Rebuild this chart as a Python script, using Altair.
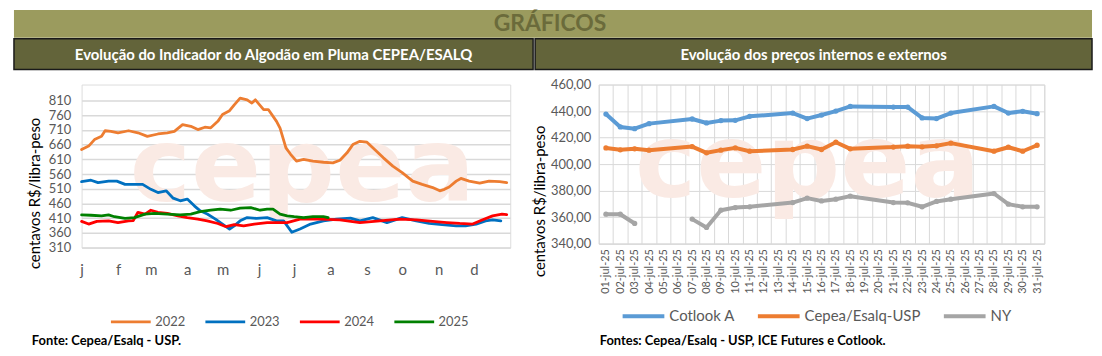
import altair as alt
import pandas as pd

# ---------------- Left chart: CEPEA/ESALQ indicator (day of year, value) ----------------
years = ["2022", "2023", "2024", "2025"]
year_colors = ["#ED7D31", "#0070C0", "#FF0000", "#008000"]
year_widths = [2.8, 2.8, 2.8, 4.2]

days_2022 = [0, 6, 11, 17, 20, 25, 31, 40, 48, 56, 65, 73, 79, 86, 93, 99, 105, 110, 116, 120,
             126, 130, 135, 141, 145, 148, 155, 159, 166, 169, 174, 178, 183, 189, 197, 206, 214, 220, 226, 231,
             237, 243, 248, 257, 265, 273, 282, 290, 299, 305, 309, 313, 319, 323, 330, 339, 347, 356, 362]
vals_2022 = [643, 655, 677, 688, 707, 705, 700, 707, 700, 688, 696, 700, 705, 728, 722, 711, 719, 717, 739, 762,
             775, 795, 818, 812, 801, 812, 779, 779, 739, 716, 649, 627, 604, 610, 604, 600, 598, 607, 632, 660,
             671, 668, 649, 615, 587, 565, 536, 525, 514, 503, 508, 516, 536, 545, 536, 529, 536, 534, 531]

days_2023 = [0, 8, 14, 23, 30, 37, 45, 52, 59, 65, 72, 78, 84, 90, 96, 101, 107, 114, 120, 126,
             130, 135, 141, 149, 158, 166, 172, 179, 186, 195, 206, 217, 229, 237, 248, 260, 273, 285, 296, 307,
             319, 327, 336, 344, 350, 357]
vals_2023 = [534, 539, 531, 536, 536, 525, 525, 525, 508, 497, 503, 478, 469, 475, 452, 435, 424, 407, 390, 373,
             384, 401, 412, 409, 412, 401, 401, 362, 373, 390, 401, 407, 410, 401, 412, 395, 412, 401, 392, 388,
             384, 384, 390, 401, 404, 401]

days_2024 = [0, 6, 13, 23, 31, 40, 44, 48, 54, 59, 65, 73, 82, 90, 99, 107, 116, 123, 130, 138,
             147, 158, 166, 175, 186, 203, 220, 237, 254, 271, 285, 299, 311, 322, 333, 341, 350, 358, 362]
vals_2024 = [399, 390, 399, 401, 395, 401, 402, 430, 424, 437, 430, 426, 418, 412, 407, 401, 392, 381, 388, 384,
             390, 395, 395, 395, 407, 407, 404, 395, 401, 407, 404, 399, 395, 392, 390, 404, 418, 424, 422]

days_2025 = [0, 8, 17, 23, 28, 37, 45, 54, 62, 73, 84, 93, 101, 110, 118, 127, 135, 144, 152, 158,
             163, 169, 175, 181, 189, 197, 206, 210]
vals_2025 = [421, 420, 418, 421, 415, 409, 412, 424, 426, 424, 421, 424, 432, 437, 441, 437, 444, 446, 437, 441,
             441, 424, 418, 415, 412, 415, 415, 412]

month_starts = [0, 31, 59, 90, 120, 151, 181, 212, 243, 273, 304, 334]
month_labels = ["j", "f", "m", "a", "m", "j", "j", "a", "s", "o", "n", "d"]
left_y_ticks = [310, 360, 410, 460, 510, 560, 610, 660, 710, 760, 810]

# ---------------- Right chart: internal and external prices, July 2025 ----------------
series_names = ["Cotlook A", "Cepea/Esalq-USP", "NY"]
series_colors = ["#5B9BD5", "#ED7D31", "#A5A5A5"]
date_labels = ["%02d-jul-25" % d for d in range(1, 32)]
days_jul = [1, 2, 3, 4, 7, 8, 9, 10, 11, 14, 15, 16, 17, 18, 21, 22, 23, 24, 25, 28, 29, 30, 31]
cotlook = [437.7, 428.0, 426.7, 430.5, 434.0, 431.0, 432.8, 433.0, 436.0, 438.5, 434.3, 437.0, 440.0, 443.5,
           443.0, 443.0, 434.8, 434.3, 438.5, 443.5, 438.5, 439.8, 438.0]
cepea = [412.2, 410.8, 411.5, 410.5, 413.2, 408.5, 410.5, 412.2, 409.7, 411.0, 413.5, 411.0, 416.5, 411.5,
         412.8, 413.5, 413.0, 413.8, 415.8, 409.7, 412.7, 409.7, 414.2]
ny = [362.2, 362.2, 355.2, None, 358.5, 352.2, 365.2, 367.2, 367.8, 371.0, 374.3, 372.2, 373.5, 375.8,
      371.0, 370.8, 367.8, 371.8, 373.5, 377.8, 369.8, 367.8, 367.8]
right_y_ticks = [340, 360, 380, 400, 420, 440, 460]

# ---------------- Build tables ----------------
rows = []
for yr, ds, vs in zip(years, [days_2022, days_2023, days_2024, days_2025],
                      [vals_2022, vals_2023, vals_2024, vals_2025]):
    for d, v in zip(ds, vs):
        rows.append({"year": yr, "day": d, "value": v})
df_left = pd.DataFrame(rows)

rows = []
for name, vals in zip(series_names, [cotlook, cepea, ny]):
    seg = 0
    for d, v in zip(days_jul, vals):
        if v is None:
            seg += 1
            continue
        rows.append({"serie": name, "date": "%02d-jul-25" % d, "day": d, "value": v,
                     "seg": "%s-%d" % (name, seg)})
df_right = pd.DataFrame(rows)

GRAY = "#595959"
W_L, H_L = 431, 164
W_R, H_R = 448, 160
WATER = "#FAEAE4"

month_expr = "%s[indexof(%s, datum.value)]" % (str(month_labels), str(month_starts))


def txt(s):
    return pd.DataFrame({"t": [s]})


# ---------------- Left panel ----------------
left_water = alt.Chart(txt("cepea")).mark_text(
    fontSize=104, fontWeight="bold", font="DejaVu Sans", color=WATER, align="center",
    baseline="alphabetic"
).encode(text="t:N", x=alt.value(222), y=alt.value(117))

left_lines = alt.Chart(df_left).mark_line(strokeJoin="round", strokeCap="round").encode(
    x=alt.X("day:Q", scale=alt.Scale(domain=[0, 365], nice=False, zero=False),
            axis=alt.Axis(values=month_starts, labelExpr=month_expr, grid=False, ticks=False,
                          domain=False, labelPadding=15, labelFontSize=15, labelColor=GRAY,
                          labelFlush=False, title=None)),
    y=alt.Y("value:Q", scale=alt.Scale(domain=[310, 864.05], nice=False, zero=False),
            axis=alt.Axis(values=left_y_ticks, grid=True, gridColor="#D9D9D9", gridWidth=1.5,
                          ticks=False, domain=False, labelPadding=11, labelFontSize=13,
                          labelColor=GRAY, title="centavos R$/libra-peso", titleX=-47, titleY=109,
                          titleAngle=270, titleAlign="center", titleBaseline="middle",
                          titleFontSize=15, titleFontWeight="normal", titleColor="#000000")),
    color=alt.Color("year:N", scale=alt.Scale(domain=years, range=year_colors),
                    legend=alt.Legend(orient="none", legendX=28, legendY=217, direction="horizontal",
                                      title=None, symbolType="stroke", symbolSize=1600,
                                      symbolStrokeWidth=3, labelFontSize=13, labelColor=GRAY,
                                      columnPadding=13, labelOffset=3)),
    strokeWidth=alt.StrokeWidth("year:N", scale=alt.Scale(domain=years, range=year_widths), legend=None),
    order="day:Q",
)

header_band = alt.Chart(txt("GRÁFICOS")).mark_rect(color="#9B9B5E").encode(
    x=alt.value(-68), x2=alt.value(1016), y=alt.value(-75), y2=alt.value(-47))
header_text = alt.Chart(txt("GRÁFICOS")).mark_text(
    fontSize=23, fontWeight="bold", color="#6B6B3B", align="center", baseline="middle"
).encode(text="t:N", x=alt.value(471), y=alt.value(-61))

left_bar = alt.Chart(txt("a")).mark_rect(color="#63643A", stroke="#1A1A1A", strokeWidth=1.5).encode(
    x=alt.value(-68), x2=alt.value(454), y=alt.value(-46), y2=alt.value(-15))
left_sub = alt.Chart(txt("Evolução do Indicador do Algodão em Pluma CEPEA/ESALQ")).mark_text(
    fontSize=15, fontWeight="bold", color="white", align="center", baseline="middle"
).encode(text="t:N", x=alt.value(193), y=alt.value(-30))

left_src = alt.Chart(txt("Fonte: Cepea/Esalq - USP.")).mark_text(
    fontSize=13, fontWeight="bold", color="#000000", align="left", baseline="alphabetic"
).encode(text="t:N", x=alt.value(-50), y=alt.value(262))

left = alt.layer(left_water, header_band, header_text, left_bar, left_sub, left_lines, left_src).properties(
    width=W_L, height=H_L)

# ---------------- Right panel ----------------
right_water = alt.Chart(txt("cepea")).mark_text(
    fontSize=104, fontWeight="bold", font="DejaVu Sans", color=WATER, align="center",
    baseline="alphabetic"
).encode(text="t:N", x=alt.value(210), y=alt.value(113))

xr = alt.X("date:O", scale=alt.Scale(type="band", domain=date_labels, paddingInner=0, paddingOuter=0),
           bandPosition=0.5,
           axis=alt.Axis(tickBand="extent", grid=True, gridColor="#D9D9D9", gridWidth=1, ticks=False,
                         domain=True, domainColor="#D9D9D9", labelAngle=-90, labelFontSize=11,
                         labelColor=GRAY, labelPadding=5, title=None))
yr = alt.Y("value:Q", scale=alt.Scale(domain=[340, 460], nice=False, zero=False),
           axis=alt.Axis(values=right_y_ticks, grid=True, gridColor="#D9D9D9", gridWidth=1, ticks=False,
                         domain=False, labelPadding=8, labelFontSize=13, labelColor=GRAY,
                         labelExpr="replace(format(datum.value, '.2f'), '.', ',')",
                         title="centavos R$/libra-peso", titleX=-60, titleY=117, titleAngle=270,
                         titleAlign="center", titleBaseline="middle", titleFontSize=15,
                         titleFontWeight="normal", titleColor="#000000"))
rlegend = alt.Legend(orient="none", legendX=22, legendY=210, direction="horizontal", title=None,
                     symbolType="stroke", symbolSize=1760, symbolStrokeWidth=4, labelFontSize=15,
                     labelColor=GRAY, columnPadding=15, labelOffset=3)
cr = alt.Color("serie:N", scale=alt.Scale(domain=series_names, range=series_colors), legend=rlegend)

right_lines = alt.Chart(df_right).mark_line(strokeWidth=4, strokeJoin="round").encode(
    x=xr, y=yr, color=cr, detail="seg:N", order="day:Q")
right_pts = alt.Chart(df_right).mark_point(filled=True, size=28, opacity=1, shape="circle").encode(
    x=xr, y=yr, color=cr)

right_bar = alt.Chart(txt("b")).mark_rect(color="#63643A", stroke="#1A1A1A", strokeWidth=1.5).encode(
    x=alt.value(-64), x2=alt.value(496), y=alt.value(-46), y2=alt.value(-15))
right_sub = alt.Chart(txt("Evolução dos preços internos e externos")).mark_text(
    fontSize=15, fontWeight="bold", color="white", align="center", baseline="middle"
).encode(text="t:N", x=alt.value(216), y=alt.value(-30))
right_src = alt.Chart(txt("Fontes: Cepea/Esalq - USP, ICE Futures e Cotlook.")).mark_text(
    fontSize=13, fontWeight="bold", color="#000000", align="left", baseline="alphabetic"
).encode(text="t:N", x=alt.value(1), y=alt.value(262))

right = alt.layer(right_water, right_bar, right_sub, right_lines, right_pts, right_src).properties(
    width=W_R, height=H_R)

chart = alt.hconcat(left, right, spacing=89, bounds="flush").resolve_scale(
    color="independent", strokeWidth="independent"
).properties(
    padding={"left": 4, "top": 0, "right": 0, "bottom": 0}
).configure_view(stroke=None).configure(font="Lato")

chart.save("out.html", embed_options={"renderer": "svg", "actions": False})
